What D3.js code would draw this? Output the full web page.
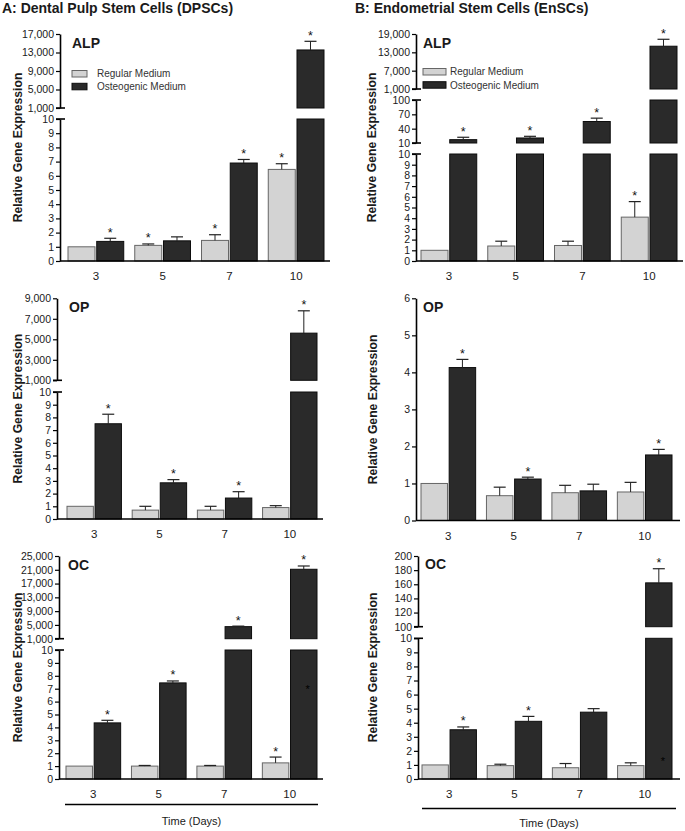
<!DOCTYPE html>
<html><head><meta charset="utf-8">
<script src="https://cdn.jsdelivr.net/npm/d3@7"></script>
<style>
body{margin:0;background:#fff}
svg{display:block}
text{font-family:Arial,"Liberation Sans",sans-serif;fill:#1a1a1a}
</style>
</head><body>
<svg id="c" width="685" height="831"></svg>
<script>
// ---------------- DATA ----------------
const days = ["3", "5", "7", "10"];
const series = ["Regular Medium", "Osteogenic Medium"];

// A: DPSCs — ALP
const dpscAlpRegular    = [1.0, 1.1, 1.45, 6.45];
const dpscAlpRegularErr = [0, 0.1, 0.4, 0.4];
const dpscAlpOsteo      = [1.38, 1.42, 6.9, 13550];
const dpscAlpOsteoErr   = [0.22, 0.28, 0.25, 1870];
const dpscAlpRegularStar = [0, 1, 1, 1];
const dpscAlpOsteoStar   = [1, 0, 1, 1];

// B: EnSCs — ALP
const enscAlpRegular    = [1.0, 1.4, 1.45, 4.1];
const enscAlpRegularErr = [0, 0.45, 0.4, 1.45];
const enscAlpOsteo      = [17, 20.5, 55, 15000];
const enscAlpOsteoErr   = [5, 3.5, 7, 2270];
const enscAlpRegularStar = [0, 0, 0, 1];
const enscAlpOsteoStar   = [1, 1, 1, 1];

// A: DPSCs — OP
const dpscOpRegular    = [1.0, 0.7, 0.7, 0.9];
const dpscOpRegularErr = [0, 0.3, 0.3, 0.15];
const dpscOpOsteo      = [7.5, 2.85, 1.65, 5600];
const dpscOpOsteoErr   = [0.75, 0.25, 0.5, 2180];
const dpscOpRegularStar = [0, 0, 0, 0];
const dpscOpOsteoStar   = [1, 1, 1, 1];

// B: EnSCs — OP
const enscOpRegular    = [1.0, 0.67, 0.75, 0.77];
const enscOpRegularErr = [0, 0.23, 0.2, 0.26];
const enscOpOsteo      = [4.13, 1.12, 0.8, 1.77];
const enscOpOsteoErr   = [0.22, 0.05, 0.18, 0.15];
const enscOpRegularStar = [0, 0, 0, 0];
const enscOpOsteoStar   = [1, 1, 0, 1];

// A: DPSCs — OC
const dpscOcRegular    = [1.0, 1.0, 1.0, 1.25];
const dpscOcRegularErr = [0, 0.05, 0.05, 0.45];
const dpscOcOsteo      = [4.35, 7.45, 4500, 21150];
const dpscOcOsteoErr   = [0.2, 0.15, 150, 950];
const dpscOcRegularStar = [0, 0, 0, 1];
const dpscOcOsteoStar   = [1, 1, 1, 1];
const dpscOcStrayStar   = [null, null, null, 7];

// B: EnSCs — OC
const enscOcRegular    = [1.0, 0.95, 0.8, 0.95];
const enscOcRegularErr = [0, 0.1, 0.3, 0.2];
const enscOcOsteo      = [3.5, 4.1, 4.75, 162];
const enscOcOsteoErr   = [0.2, 0.35, 0.25, 20];
const enscOcRegularStar = [0, 0, 0, 0];
const enscOcOsteoStar   = [1, 1, 0, 1];
const enscOcStrayStar   = [null, null, null, 1.3];

// Tick labels (broken axes: one list per segment)
const ticksLow10  = [0, 1, 2, 3, 4, 5, 6, 7, 8, 9, 10];
const ticksLow6   = [0, 1, 2, 3, 4, 5, 6];
const dpscAlpTicksHigh = [1000, 5000, 9000, 13000, 17000];
const enscAlpTicksMid  = [10, 40, 70, 100];
const enscAlpTicksHigh = [1000, 7000, 13000, 19000];
const dpscOpTicksHigh  = [1000, 3000, 5000, 7000, 9000];
const dpscOcTicksHigh  = [1000, 5000, 9000, 13000, 17000, 21000, 25000];
const enscOcTicksHigh  = [100, 120, 140, 160, 180, 200];

const titles = ["A: Dental Pulp Stem Cells (DPSCs)", "B: Endometrial Stem Cells (EnSCs)"];
const yLabel = "Relative Gene Expression";
const xLabel = "Time (Days)";

// ---------------- LAYOUT ----------------
const panels = [
  {name:"ALP", reg:dpscAlpRegular, regErr:dpscAlpRegularErr, ost:dpscAlpOsteo, ostErr:dpscAlpOsteoErr,
   regStar:dpscAlpRegularStar, ostStar:dpscAlpOsteoStar,
   axisX:60, xEnd:330, bars:[68,324], nameX:72, nameY:48, ylabX:18,
   segs:[{domain:[0,10], range:[261,119], ticks:ticksLow10},
         {domain:[1000,17000], range:[108,34], ticks:dpscAlpTicksHigh}],
   legend:{x:72, y:70.5, w:15, h:6.5, tx:97, dy:12.8}},
  {name:"ALP", reg:enscAlpRegular, regErr:enscAlpRegularErr, ost:enscAlpOsteo, ostErr:enscAlpOsteoErr,
   regStar:enscAlpRegularStar, ostStar:enscAlpOsteoStar,
   axisX:416, xEnd:683, bars:[421,677], nameX:423, nameY:48, ylabX:372,
   segs:[{domain:[0,10], range:[261,154], ticks:ticksLow10},
         {domain:[10,100], range:[143,100], ticks:enscAlpTicksMid},
         {domain:[1000,19000], range:[89,34], ticks:enscAlpTicksHigh}],
   legend:{x:423, y:68.5, w:23, h:6.5, tx:450, dy:13.2}},
  {name:"OP", reg:dpscOpRegular, regErr:dpscOpRegularErr, ost:dpscOpOsteo, ostErr:dpscOpOsteoErr,
   regStar:dpscOpRegularStar, ostStar:dpscOpOsteoStar,
   axisX:57, xEnd:323, bars:[67,317], nameX:69, nameY:312, ylabX:18,
   segs:[{domain:[0,10], range:[519,392], ticks:ticksLow10},
         {domain:[1000,9000], range:[380.3,298.3], ticks:dpscOpTicksHigh}]},
  {name:"OP", reg:enscOpRegular, regErr:enscOpRegularErr, ost:enscOpOsteo, ostErr:enscOpOsteoErr,
   regStar:enscOpRegularStar, ostStar:enscOpOsteoStar,
   axisX:416, xEnd:680, bars:[421,672], nameX:423, nameY:312, ylabX:373,
   segs:[{domain:[0,6], range:[520.5,298.3], ticks:ticksLow6}]},
  {name:"OC", reg:dpscOcRegular, regErr:dpscOcRegularErr, ost:dpscOcOsteo, ostErr:dpscOcOsteoErr,
   regStar:dpscOcRegularStar, ostStar:dpscOcOsteoStar, stray:dpscOcStrayStar,
   axisX:59, xEnd:323, bars:[66,317], nameX:68, nameY:570, ylabX:18,
   segs:[{domain:[0,10], range:[779,650], ticks:ticksLow10},
         {domain:[1000,25000], range:[638.7,556], ticks:dpscOcTicksHigh}],
   time:{x1:65, x2:318, y:804.5, ty:825}},
  {name:"OC", reg:enscOcRegular, regErr:enscOcRegularErr, ost:enscOcOsteo, ostErr:enscOcOsteoErr,
   regStar:enscOcRegularStar, ostStar:enscOcOsteoStar, stray:enscOcStrayStar,
   axisX:418, xEnd:680, bars:[422,672], nameX:425, nameY:569, ylabX:373,
   segs:[{domain:[0,10], range:[779,638.3], ticks:ticksLow10},
         {domain:[100,200], range:[626.7,556], ticks:enscOcTicksHigh}],
   time:{x1:422, x2:676, y:808.5, ty:827}}
];

const fillC = {"Regular Medium":"#d3d3d3", "Osteogenic Medium":"#2a2a2a"};
const strokeC = {"Regular Medium":"#666", "Osteogenic Medium":"#0d0d0d"};

const svg = d3.select("#c");

svg.append("text").attr("x", 2).attr("y", 13).attr("font-size", 14).attr("font-weight", "bold").text(titles[0]);
svg.append("text").attr("x", 355).attr("y", 13).attr("font-size", 14).attr("font-weight", "bold").text(titles[1]);

function segOf(segs, v) {
  for (let i = 0; i < segs.length; i++) if (v <= segs[i].domain[1]) return segs[i];
  return segs[segs.length - 1];
}

panels.forEach(p => {
  const g = svg.append("g");
  const segs = p.segs.map(s => Object.assign({}, s, {y: d3.scaleLinear().domain(s.domain).range(s.range)}));
  const x0 = d3.scaleBand().domain(days).range(p.bars).paddingInner(0.165).paddingOuter(0);
  const x1 = d3.scaleBand().domain(series).range([0, x0.bandwidth()]).paddingInner(0.06);

  const rows = [];
  days.forEach((d, i) => {
    rows.push({day:d, s:series[0], v:p.reg[i], e:p.regErr[i], star:p.regStar[i]});
    rows.push({day:d, s:series[1], v:p.ost[i], e:p.ostErr[i], star:p.ostStar[i],
               stray:p.stray ? p.stray[i] : null});
  });

  rows.forEach(r => {
    const bx = x0(r.day) + x1(r.s);
    const bw = x1.bandwidth();
    const cx = bx + bw / 2;
    segs.forEach(s => {
      const lo = s.domain[0];
      if (r.v > lo) {
        const top = Math.min(r.v, s.domain[1]);
        g.append("rect").attr("x", bx).attr("y", s.y(top)).attr("width", bw)
          .attr("height", s.y(lo) - s.y(top))
          .attr("fill", fillC[r.s]).attr("stroke", strokeC[r.s]).attr("stroke-width", 1);
      }
    });
    const s = segOf(segs, r.v);
    const yTop = s.y(r.v + r.e);
    if (r.e > 0) {
      g.append("line").attr("x1", cx).attr("x2", cx).attr("y1", s.y(r.v)).attr("y2", yTop)
        .attr("stroke", "#222").attr("stroke-width", 1);
      g.append("line").attr("x1", cx - 6).attr("x2", cx + 6).attr("y1", yTop).attr("y2", yTop)
        .attr("stroke", "#222").attr("stroke-width", 1.2);
    }
    if (r.star) {
      g.append("text").attr("x", cx).attr("y", yTop - 1.5).attr("text-anchor", "middle")
        .attr("font-size", 12.5).style("fill", "#111").text("*");
    }
    if (r.stray != null) {
      const ss = segOf(segs, r.stray);
      g.append("text").attr("x", cx + 4).attr("y", ss.y(r.stray) + 4).attr("text-anchor", "middle")
        .attr("font-size", 11).style("fill", "#000").text("*");
    }
  });

  segs.forEach((s, i) => {
    const ax = d3.axisLeft(s.y).tickValues(s.ticks).tickFormat(d3.format(","))
      .tickSize(4).tickSizeOuter(0).tickPadding(2);
    const ag = g.append("g").attr("transform", `translate(${p.axisX},0)`).call(ax);
    ag.select(".domain").attr("stroke", "#000").attr("stroke-width", 1.6);
    ag.selectAll(".tick line").attr("stroke", "#000").attr("stroke-width", 1.2);
    ag.selectAll(".tick text").attr("font-size", 10.5).attr("font-family", null).style("fill", "#1a1a1a");
    if (i > 0) {
      g.append("line").attr("x1", p.axisX - 4).attr("x2", p.axisX + 5)
        .attr("y1", s.y(s.domain[0])).attr("y2", s.y(s.domain[0])).attr("stroke", "#000").attr("stroke-width", 1.6);
    }
    if (i < segs.length - 1) {
      g.append("line").attr("x1", p.axisX - 4).attr("x2", p.axisX + 5)
        .attr("y1", s.y(s.domain[1])).attr("y2", s.y(s.domain[1])).attr("stroke", "#000").attr("stroke-width", 1.6);
    }
  });

  const base = segs[0].y(0);
  g.append("line").attr("x1", p.axisX).attr("x2", p.xEnd).attr("y1", base).attr("y2", base)
    .attr("stroke", "#000").attr("stroke-width", 1.6);
  const xa = d3.axisBottom(x0).tickSize(0).tickPadding(11);
  const xg = g.append("g").attr("transform", `translate(0,${base})`).call(xa);
  xg.select(".domain").remove();
  xg.selectAll(".tick text").attr("font-size", 11.5).attr("font-family", null).style("fill", "#1a1a1a");

  g.append("text").attr("x", p.nameX).attr("y", p.nameY).attr("font-size", 14)
    .attr("font-weight", "bold").text(p.name);

  const ymid = (segs[0].range[0] + segs[segs.length - 1].range[1]) / 2;
  g.append("text").attr("transform", `translate(${p.ylabX},${ymid}) rotate(-90)`)
    .attr("text-anchor", "middle").attr("dominant-baseline", "central")
    .attr("font-size", 12.2).attr("font-weight", "bold").text(yLabel);

  if (p.legend) {
    const L = p.legend;
    series.forEach((s, i) => {
      g.append("rect").attr("x", L.x).attr("y", L.y + i * L.dy).attr("width", L.w).attr("height", L.h)
        .attr("fill", fillC[s]).attr("stroke", strokeC[s]).attr("stroke-width", 1);
      g.append("text").attr("x", L.tx).attr("y", L.y + i * L.dy + L.h / 2 + 3.6)
        .attr("font-size", 10).style("fill", "#333").text(s);
    });
  }

  if (p.time) {
    g.append("line").attr("x1", p.time.x1).attr("x2", p.time.x2).attr("y1", p.time.y).attr("y2", p.time.y)
      .attr("stroke", "#000").attr("stroke-width", 1.3);
    g.append("text").attr("x", (p.time.x1 + p.time.x2) / 2).attr("y", p.time.ty)
      .attr("text-anchor", "middle").attr("font-size", 11).text(xLabel);
  }
});
</script>
</body></html>
